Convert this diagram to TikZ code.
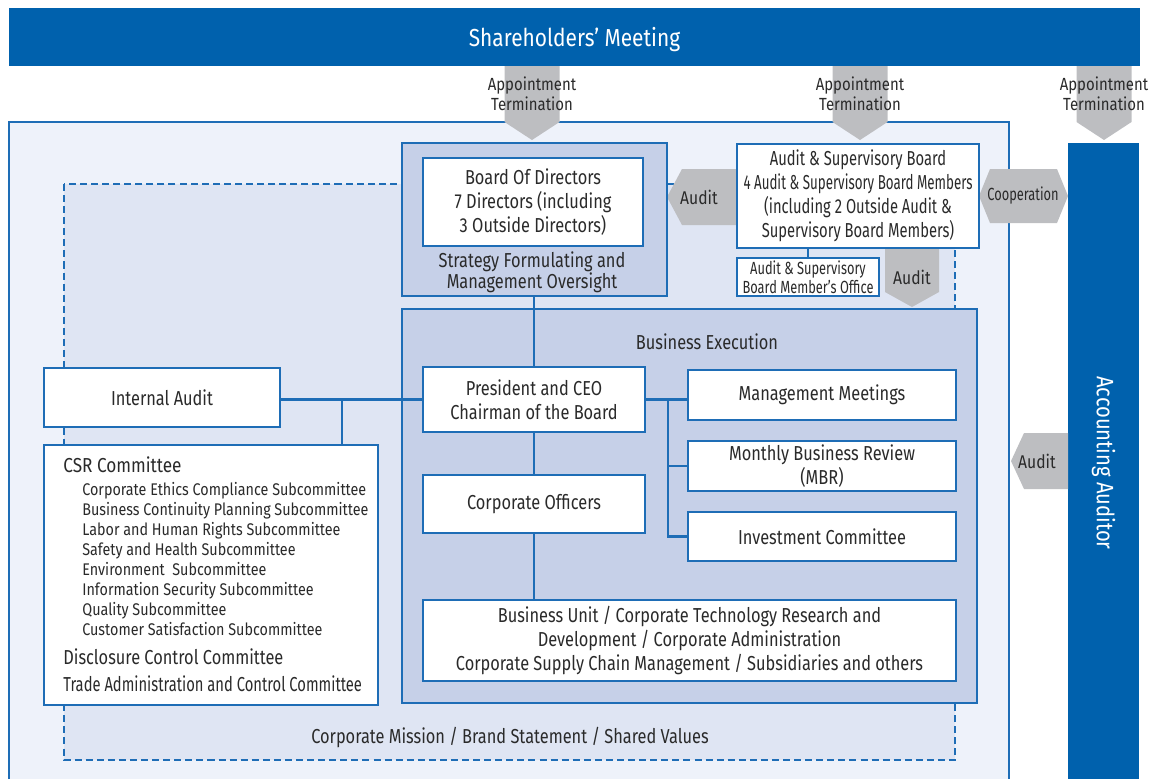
\documentclass[tikz,border=0pt]{standalone}
\usepackage{fontspec}
\setmainfont{Fira Sans}[FakeStretch=0.81]
\newfontfamily\listfont{Fira Sans}[FakeStretch=0.85]
\newfontfamily\narrowfont{Fira Sans}[FakeStretch=0.73]
\newfontfamily\tightfont{Fira Sans}[FakeStretch=0.66]

\definecolor{corpblue}{HTML}{0061AD}
\definecolor{blueline}{HTML}{1E6DB6}
\definecolor{panelfill}{HTML}{C6D0E8}
\definecolor{zonefill}{HTML}{DFE5F3}
\definecolor{basefill}{HTML}{EEF2FA}
\definecolor{arrowgray}{HTML}{BDBEC1}
\definecolor{ink}{HTML}{2A2A2A}

\tikzset{
  box/.style={draw=blueline, line width=1.1pt, fill=white, text=ink, align=center,
    inner sep=0pt, font=\fontsize{11.5}{13.6}\selectfont},
  panel/.style={draw=blueline, line width=1.1pt, fill=panelfill, inner sep=0pt},
  link/.style={draw=blueline, line width=1.3pt},
  tag/.style={text=ink, align=center, inner sep=0pt, font=\fontsize{11.5}{13.6}\selectfont},
  small/.style={text=ink, anchor=base west, inner sep=0pt, font=\listfont\fontsize{9.6}{11.3}\selectfont},
}

\begin{document}
\begin{tikzpicture}[x=0.02cm,y=-0.02cm]
  \useasboundingbox (0,0) rectangle (1152,779);

  % company frame and the dashed mission zone
  \fill[basefill] (9,122) rectangle (1009,779);
  \draw[blueline, line width=0.9pt] (9,779) -- (9,122) -- (1009,122) -- (1009,779);
  \draw[blueline, fill=zonefill, line width=1.1pt, dash pattern=on 4pt off 2.3pt] (64,184) rectangle (955,760);

  % top bar and right bar
  \fill[corpblue] (9,8) rectangle (1140,66);
  \node[text=white, inner sep=0pt, font=\listfont\fontsize{14}{16}\selectfont] (share) at (574.5,40) {Shareholders’ Meeting};
  \node[fill=corpblue, minimum width=1.42cm, minimum height=12.72cm, inner sep=0pt] (acc) at (1103.5,461) {};
  \node[text=white, rotate=-90, inner sep=0pt, font=\listfont\fontsize{13.5}{16}\selectfont] (acclabel) at (1103.5,463) {Accounting Auditor};

  % appointment / termination arrows
  \foreach \x/\n in {532/1,860/2,1104/3}{
    \fill[arrowgray] (\x-27.5,66) -- (\x+27.5,66) -- (\x+27.5,122) -- (\x,140) -- (\x-27.5,122) -- cycle;
    \node[tag, font=\listfont\fontsize{10}{11.3}\selectfont] (appt\n) at (\x,94) {Appointment\\Termination};
  }

  % audit and cooperation arrows
  \fill[arrowgray] (667,197) -- (682,169) -- (737,169) -- (737,225) -- (682,225) -- cycle;
  \node[tag, font=\listfont\fontsize{10.5}{12}\selectfont] (audit1) at (699,197) {Audit};
  \fill[arrowgray] (979,196) -- (990,169) -- (1057,169) -- (1068,196) -- (1057,223) -- (990,223) -- cycle;
  \node[tag, font=\narrowfont\fontsize{10}{12}\selectfont] (coop) at (1023,196) {Cooperation};
  \fill[arrowgray] (885,247) -- (939,247) -- (939,292) -- (912,307) -- (885,292) -- cycle;
  \node[tag, font=\listfont\fontsize{10.5}{12}\selectfont] (audit2) at (912,277) {Audit};
  \fill[arrowgray] (1011,461) -- (1024,433) -- (1068,433) -- (1068,489) -- (1024,489) -- cycle;
  \node[tag, font=\listfont\fontsize{10.5}{12}\selectfont] (audit3) at (1037,461) {Audit};

  % board of directors
  \node[panel, minimum width=5.3cm, minimum height=3.06cm] (board) at (534.5,219.5) {};
  \node[box, minimum width=4.4cm, minimum height=1.76cm] (bod) at (533,202)
    {Board Of Directors\\7 Directors (including\\3 Outside Directors)};
  \node[tag, font=\fontsize{11.5}{12}\selectfont] (oversight) at (532,272) {Strategy Formulating and\\Management Oversight};

  % audit & supervisory board
  \node[box, minimum width=4.84cm, minimum height=2.08cm, font=\narrowfont\fontsize{11.5}{13.6}\selectfont] (asb) at (858,196)
    {Audit \& Supervisory Board\\{\tightfont 4 Audit \& Supervisory Board Members}\\(including 2 Outside Audit \&\\Supervisory Board Members)};
  \node[box, minimum width=2.84cm, minimum height=0.76cm, font=\narrowfont\fontsize{10}{9}\selectfont] (office) at (808,277)
    {Audit \& Supervisory\\Board Member’s Office};
  \draw[link] (office.north) -- (office.north |- asb.south);

  % business execution
  \node[panel, minimum width=11.5cm, minimum height=7.88cm] (exec) at (689.5,506) {};
  \node[tag] (execlabel) at (707,342) {Business Execution};
  \node[box, minimum width=4.44cm, minimum height=1.3cm] (pres) at (534,399.5) {President and CEO\\Chairman of the Board};
  \node[box, minimum width=4.44cm, minimum height=1.16cm] (officers) at (534,504) {Corporate Officers};
  \node[box, minimum width=10.66cm, minimum height=1.62cm] (bu) at (689.5,640.5)
    {Business Unit / Corporate Technology Research and\\Development / Corporate Administration\\Corporate Supply Chain Management / Subsidiaries and others};
  \node[box, minimum width=5.36cm, minimum height=1cm] (mm) at (822,395) {Management Meetings};
  \node[box, minimum width=5.36cm, minimum height=1cm] (mbr) at (822,466) {Monthly Business Review\\(MBR)};
  \node[box, minimum width=5.36cm, minimum height=0.98cm] (inv) at (822,536.5) {Investment Committee};

  % internal audit and committees
  \node[box, minimum width=4.72cm, minimum height=1.18cm] (ia) at (162,397.5) {Internal Audit};
  \node[box, minimum width=6.68cm, minimum height=5.2cm] (csr) at (211,575) {};
  \node[tag, anchor=base west, font=\listfont\fontsize{11.5}{13.6}\selectfont] (csrhead) at (63,472.5) {CSR Committee};
  \foreach \s [count=\i from 0] in {Corporate Ethics Compliance Subcommittee,
      Business Continuity Planning Subcommittee, Labor and Human Rights Subcommittee,
      Safety and Health Subcommittee, Environment\ \ Subcommittee,
      Information Security Subcommittee, Quality Subcommittee,
      Customer Satisfaction Subcommittee}
    \node[small] (sub\i) at (82,495+20*\i) {\s};
  \node[tag, anchor=base west] (disclosure) at (63,664.5) {Disclosure Control Committee};
  \node[tag, anchor=base west, font=\narrowfont\fontsize{11.5}{13.6}\selectfont] (trade) at (63,691.5) {Trade Administration and Control Committee};

  \node[tag] (mission) at (510,737) {Corporate Mission / Brand Statement / Shared Values};

  % reporting lines
  \draw[link] (pres.north) -- (pres.north |- board.south);
  \draw[link] (pres.south) -- (officers.north);
  \draw[link] (officers.south) -- (officers.south |- bu.north);
  \draw[link] (pres.west) -- (pres.west -| ia.east);
  \coordinate (jl) at (342,399.5);
  \draw[link] (jl) -- (jl |- csr.north);
  \draw[link] (pres.east) -- (pres.east -| mm.west);
  \coordinate (jr) at (668,399.5);
  \draw[link] (jr) |- (inv.west);
  \draw[link] (jr |- mbr.west) -- (mbr.west);
\end{tikzpicture}
\end{document}
